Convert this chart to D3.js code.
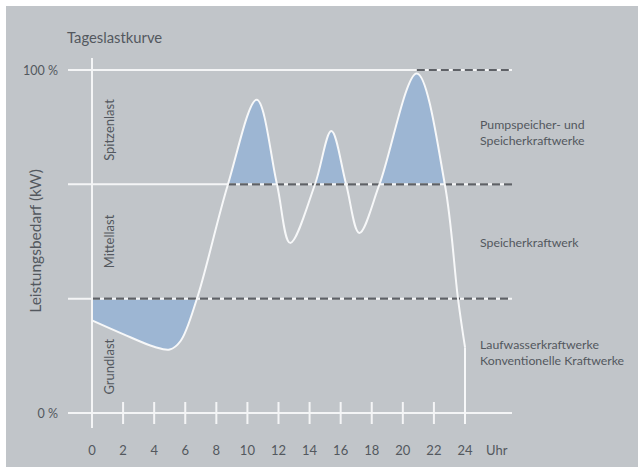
<!DOCTYPE html>
<html>
<head>
<meta charset="utf-8">
<script src="https://cdn.jsdelivr.net/npm/d3@7"></script>
<style>
	body { margin: 0; background: #fff; }
	svg text { font-family: Lato, "Open Sans", sans-serif; fill: #53585e; }
</style>
</head>
<body>
<svg id="chart"></svg>
<script>
// Tageslastkurve - values (hour, % of peak demand)
var hours = [0, 2, 4, 5, 5.7, 6.75, 8.75, 10.6, 11.9, 12.75, 14.35, 15.4, 16.35, 17.2, 18.5, 20.9, 22.7, 23.55, 24];
var load  = [27, 23, 19.3, 18.5, 21, 33.3, 66.7, 91.3, 66.7, 49.6, 66.7, 82.2, 66.7, 52.5, 66.7, 99, 66.7, 33.3, 19.2];

var tickHours = [0, 2, 4, 6, 8, 10, 12, 14, 16, 18, 20, 22, 24];
var levels = [0, 33.33, 66.67, 100];
var levelLabels = ['0 %', '', '', '100 %'];
// hour where the dashed part of each level line begins
var dashFrom = [null, 0, 8.75, 20.9];

var bandNames = ['Grundlast', 'Mittellast', 'Spitzenlast'];
var bandMid = [13.5, 50, 82.5];
var plantLabels = [
	['Laufwasserkraftwerke', 'Konventionelle Kraftwerke'],
	['Speicherkraftwerk'],
	['Pumpspeicher- und', 'Speicherkraftwerke']
];
var plantY = [17.5, 49.5, 81.5];

(function () {
	'use strict';

	var W = 639, H = 470;
	var svg = d3.select('#chart').attr('width', W).attr('height', H);

	var x = d3.scaleLinear().domain([0, 24]).range([92, 465]);
	var y = d3.scaleLinear().domain([0, 100]).range([413, 70]);

	var pts = hours.map(function (h, i) { return [h, load[i]]; });

	svg.append('rect').attr('x', 6).attr('y', 6).attr('width', W - 7).attr('height', H - 9)
		.attr('fill', '#c1c5c9');

	var defs = svg.append('defs');
	defs.append('clipPath').attr('id', 'clipTop').append('rect')
		.attr('x', x(0)).attr('y', y(100) - 10)
		.attr('width', x(24) - x(0)).attr('height', y(levels[2]) - y(100) + 10);
	defs.append('clipPath').attr('id', 'clipLow').append('rect')
		.attr('x', x(0)).attr('y', y(levels[1]))
		.attr('width', x(9) - x(0)).attr('height', y(0) - y(levels[1]));

	var curve = d3.curveCatmullRom.alpha(0.5);

	// blue fills
	svg.append('path')
		.datum(pts)
		.attr('clip-path', 'url(#clipTop)')
		.attr('fill', '#9db6d3')
		.attr('d', d3.area().curve(curve)
			.x(function (d) { return x(d[0]); })
			.y0(y(levels[2]))
			.y1(function (d) { return y(d[1]); }));

	svg.append('path')
		.datum(pts)
		.attr('clip-path', 'url(#clipLow)')
		.attr('fill', '#9db6d3')
		.attr('d', d3.area().curve(curve)
			.x(function (d) { return x(d[0]); })
			.y0(y(levels[1]))
			.y1(function (d) { return y(d[1]); }));

	// level lines
	levels.forEach(function (lv, i) {
		svg.append('line')
			.attr('x1', 68).attr('x2', 512)
			.attr('y1', y(lv)).attr('y2', y(lv))
			.attr('stroke', '#f4f5f6').attr('stroke-width', 2);
		if (dashFrom[i] !== null) {
			svg.append('line')
				.attr('x1', x(dashFrom[i])).attr('x2', 512)
				.attr('y1', y(lv)).attr('y2', y(lv))
				.attr('stroke', '#5e6166').attr('stroke-width', 2.2)
				.attr('stroke-dasharray', '8,4');
		}
		if (levelLabels[i]) {
			svg.append('text')
				.attr('x', 58).attr('y', y(lv) + 4.5)
				.attr('text-anchor', 'end')
				.attr('font-size', 12.5)
				.text(levelLabels[i]);
		}
	});

	// vertical axis
	svg.append('line')
		.attr('x1', x(0)).attr('x2', x(0))
		.attr('y1', 58).attr('y2', 428)
		.attr('stroke', '#f4f5f6').attr('stroke-width', 2);

	// hour ticks and labels
	svg.selectAll('line.tick')
		.data(tickHours.slice(1))
		.enter()
		.append('line')
		.attr('class', 'tick')
		.attr('x1', function (d) { return x(d); })
		.attr('x2', function (d) { return x(d); })
		.attr('y1', 402).attr('y2', 424)
		.attr('stroke', '#f4f5f6').attr('stroke-width', 2);

	svg.selectAll('text.hour')
		.data(tickHours)
		.enter()
		.append('text')
		.attr('class', 'hour')
		.attr('x', function (d) { return x(d); })
		.attr('y', 455)
		.attr('text-anchor', 'middle')
		.attr('font-size', 13)
		.text(function (d) { return d; });

	svg.append('text').attr('x', 486).attr('y', 455)
		.attr('font-size', 13).text('Uhr');

	// load curve
	svg.append('path')
		.datum(pts)
		.attr('fill', 'none')
		.attr('stroke', '#f7f8f9')
		.attr('stroke-width', 2)
		.attr('d', d3.line().curve(curve)
			.x(function (d) { return x(d[0]); })
			.y(function (d) { return y(d[1]); }));

	svg.append('line')
		.attr('x1', x(24)).attr('x2', x(24))
		.attr('y1', y(load[load.length - 1])).attr('y2', 424)
		.attr('stroke', '#f7f8f9').attr('stroke-width', 2);

	// titles
	svg.append('text').attr('x', 67).attr('y', 43)
		.attr('font-size', 14.8).text('Tageslastkurve');

	svg.append('text')
		.attr('transform', 'translate(41,241) rotate(-90)')
		.attr('text-anchor', 'middle')
		.attr('font-size', 15.5)
		.text('Leistungsbedarf (kW)');

	bandNames.forEach(function (n, i) {
		svg.append('text')
			.attr('transform', 'translate(114,' + y(bandMid[i]) + ') rotate(-90)')
			.attr('text-anchor', 'middle')
			.attr('font-size', 13)
			.text(n);
	});

	plantLabels.forEach(function (lines, i) {
		var t = svg.append('text')
			.attr('x', 480)
			.attr('y', y(plantY[i]) - (lines.length - 1) * 8 + 4)
			.attr('font-size', 12.3);
		lines.forEach(function (l, j) {
			t.append('tspan').attr('x', 480).attr('dy', j === 0 ? 0 : 16).text(l);
		});
	});
})();
</script>
</body>
</html>
